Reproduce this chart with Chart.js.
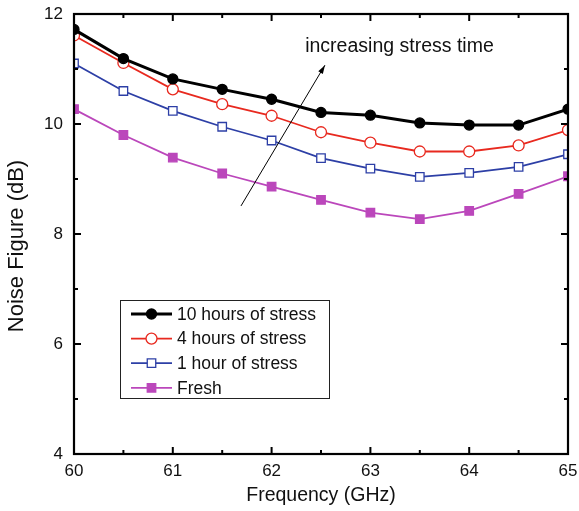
<!DOCTYPE html>
<html>
<head>
<meta charset="utf-8">
<script src="https://cdn.jsdelivr.net/npm/chart.js@4.4.1/dist/chart.umd.min.js"></script>
<style>
  html, body { margin: 0; padding: 0; background: #fff; }
  #wrap { width: 579px; height: 511px; }
</style>
</head>
<body>
<div id="wrap"><canvas id="nf"></canvas></div>
<script>
// frequency points (GHz)
var freqs = [60, 60.5, 61, 61.5, 62, 62.5, 63, 63.5, 64, 64.5, 65];

// noise figure (dB) per stress condition
var nf10h  = [11.72, 11.19, 10.82, 10.63, 10.45, 10.21, 10.16, 10.02, 9.98, 9.98, 10.27];
var nf4h   = [11.61, 11.11, 10.63, 10.36, 10.15, 9.85, 9.66, 9.50, 9.50, 9.61, 9.89];
var nf1h   = [11.10, 10.60, 10.24, 9.95, 9.70, 9.38, 9.19, 9.04, 9.11, 9.22, 9.45];
var nfFresh = [10.27, 9.80, 9.39, 9.10, 8.86, 8.62, 8.39, 8.27, 8.42, 8.73, 9.05];

var seriesNames = ['10 hours of stress', '4 hours of stress', '1 hour of stress', 'Fresh'];

var xTicks = [60, 61, 62, 63, 64, 65];
var yTicks = [4, 6, 8, 10, 12];

var FONT = 'Liberation Sans, Arial, Helvetica, sans-serif';

function pts(ys) {
    return freqs.map(function (f, i) { return { x: f, y: ys[i] }; });
}

// frame with inward ticks, y title, legend box and the arrow note
var framePlugin = {
    id: 'frame',
    afterDatasetsDraw: function (chart) {
        var ctx = chart.ctx;
        var a = chart.chartArea;
        var xs = chart.scales.x, ys = chart.scales.y;
        ctx.save();
        ctx.strokeStyle = '#000';
        ctx.lineWidth = 2.2;
        ctx.strokeRect(a.left, a.top, a.right - a.left, a.bottom - a.top);

        ctx.lineWidth = 2;
        ctx.beginPath();
        for (var v = 60; v <= 65.001; v += 0.5) {
            var px = xs.getPixelForValue(v);
            var len = (Math.abs(v - Math.round(v)) < 0.01) ? 7 : 4;
            ctx.moveTo(px, a.bottom); ctx.lineTo(px, a.bottom - len);
            ctx.moveTo(px, a.top); ctx.lineTo(px, a.top + len);
        }
        for (var w = 4; w <= 12; w += 1) {
            var py = ys.getPixelForValue(w);
            var l2 = (w % 2 === 0) ? 7 : 4;
            ctx.moveTo(a.left, py); ctx.lineTo(a.left + l2, py);
            ctx.moveTo(a.right, py); ctx.lineTo(a.right - l2, py);
        }
        ctx.stroke();

        // y axis title
        ctx.save();
        ctx.translate(17, (a.top + a.bottom) / 2 + 12);
        ctx.rotate(-Math.PI / 2);
        ctx.font = '22px ' + FONT;
        ctx.fillStyle = '#111';
        ctx.textAlign = 'center';
        ctx.textBaseline = 'middle';
        ctx.fillText('Noise Figure (dB)', 0, 0);
        ctx.restore();

        // arrow: increasing stress time
        var x0 = xs.getPixelForValue(61.69), y0 = ys.getPixelForValue(8.51);
        var x1 = xs.getPixelForValue(62.54), y1 = ys.getPixelForValue(11.07);
        ctx.lineWidth = 1;
        ctx.beginPath();
        ctx.moveTo(x0, y0); ctx.lineTo(x1, y1);
        ctx.stroke();
        var ang = Math.atan2(y1 - y0, x1 - x0);
        ctx.beginPath();
        ctx.moveTo(x1, y1);
        ctx.lineTo(x1 - 9 * Math.cos(ang - 0.3), y1 - 9 * Math.sin(ang - 0.3));
        ctx.lineTo(x1 - 9 * Math.cos(ang + 0.3), y1 - 9 * Math.sin(ang + 0.3));
        ctx.closePath();
        ctx.fillStyle = '#000';
        ctx.fill();
        ctx.font = '19.5px ' + FONT;
        ctx.fillStyle = '#111';
        ctx.textBaseline = 'alphabetic';
        ctx.textAlign = 'left';
        ctx.fillText('increasing stress time', xs.getPixelForValue(62.34), ys.getPixelForValue(11.31));

        // legend box
        var bx = a.left + 46, by = a.top + 286, bw = 209, bh = 98;
        ctx.fillStyle = '#fff';
        ctx.fillRect(bx, by, bw, bh);
        ctx.lineWidth = 1;
        ctx.strokeStyle = '#222';
        ctx.strokeRect(bx + 0.5, by + 0.5, bw, bh);
        ctx.font = '17.5px ' + FONT;
        ctx.textBaseline = 'middle';
        chart.data.datasets.forEach(function (ds, i) {
            var cy = by + 14 + i * 24.6;
            var lx0 = bx + 11, lx1 = bx + 52, mx = (lx0 + lx1) / 2;
            ctx.strokeStyle = ds.borderColor;
            ctx.lineWidth = ds.borderWidth;
            ctx.beginPath();
            ctx.moveTo(lx0, cy); ctx.lineTo(lx1, cy);
            ctx.stroke();
            ctx.lineWidth = ds.pointBorderWidth;
            ctx.fillStyle = ds.pointBackgroundColor;
            ctx.beginPath();
            if (ds.pointStyle === 'circle') {
                ctx.arc(mx, cy, ds.pointRadius, 0, Math.PI * 2);
            } else {
                var r = ds.pointRadius * Math.SQRT1_2;
                ctx.rect(mx - r, cy - r, 2 * r, 2 * r);
            }
            ctx.fill();
            ctx.stroke();
            ctx.fillStyle = '#111';
            ctx.fillText(ds.label, bx + 57, cy + 1);
        });
        ctx.restore();
    }
};

var datasetsInfo = [
    { data: nf10h,  color: '#000000', fill: '#000000', style: 'circle', r: 5,   lw: 3 },
    { data: nf4h,   color: '#e8291f', fill: '#ffffff', style: 'circle', r: 5.5, lw: 1.8 },
    { data: nf1h,   color: '#2d3fa6', fill: '#ffffff', style: 'rect',   r: 6,   lw: 1.8 },
    { data: nfFresh, color: '#bb47bb', fill: '#bb47bb', style: 'rect',  r: 6,   lw: 1.8 }
];

new Chart(document.getElementById('nf').getContext('2d'), {
    type: 'line',
    data: {
        datasets: datasetsInfo.map(function (d, i) {
            return {
                label: seriesNames[i],
                data: pts(d.data),
                borderColor: d.color,
                borderWidth: d.lw,
                pointStyle: d.style,
                pointRadius: d.r,
                pointBackgroundColor: d.fill,
                pointBorderColor: d.color,
                pointBorderWidth: 1.3,
                tension: 0,
                clip: 0
            };
        })
    },
    options: {
        responsive: true,
        maintainAspectRatio: false,
        animation: false,
        layout: { padding: { top: 14, right: 11, left: 0, bottom: 0 } },
        plugins: {
            legend: { display: false },
            tooltip: { enabled: false }
        },
        scales: {
            x: {
                type: 'linear',
                min: 60, max: 65,
                grid: { display: false, drawTicks: false },
                border: { display: false },
                afterBuildTicks: function (s) { s.ticks = xTicks.map(function (v) { return { value: v }; }); },
                afterFit: function (s) {
                    s.height = 57;
                    s.paddingLeft = 0; s.paddingRight = 0;
                },
                ticks: {
                    padding: 7,
                    color: '#111',
                    font: { family: FONT, size: 17 },
                    maxRotation: 0
                },
                title: {
                    display: true,
                    text: 'Frequency (GHz)',
                    color: '#111',
                    font: { family: FONT, size: 19.5 },
                    padding: { top: 0, bottom: 4 }
                }
            },
            y: {
                min: 4, max: 12,
                grid: { display: false, drawTicks: false },
                border: { display: false },
                afterBuildTicks: function (s) { s.ticks = yTicks.map(function (v) { return { value: v }; }); },
                afterFit: function (s) {
                    s.width = 74;
                    s.paddingTop = 0; s.paddingBottom = 0;
                },
                ticks: {
                    padding: 11,
                    color: '#111',
                    font: { family: FONT, size: 17 }
                }
            }
        }
    },
    plugins: [framePlugin]
});
</script>
</body>
</html>
